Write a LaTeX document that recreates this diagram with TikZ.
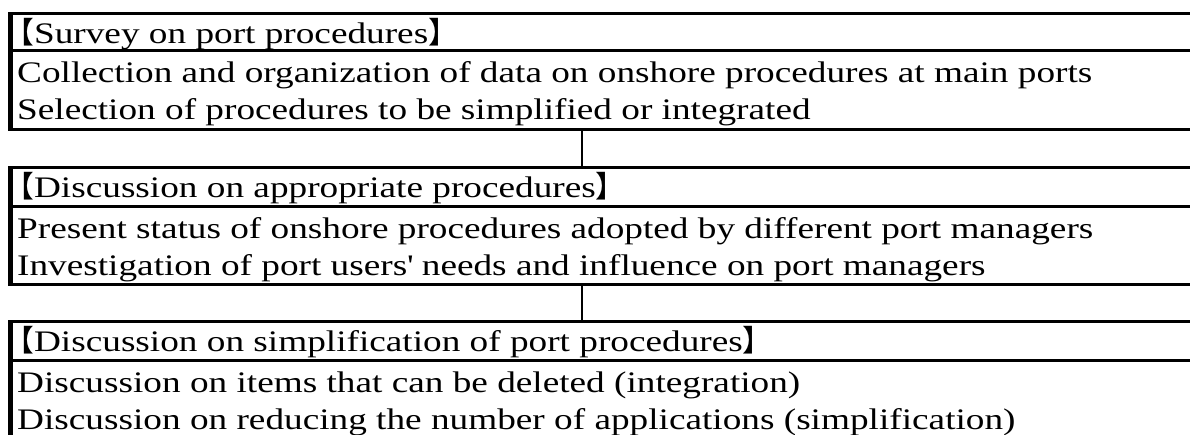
\documentclass[tikz,border=0pt]{standalone}
\usepackage{fontspec}
\setmainfont{Liberation Serif}[FakeStretch=1.25]
\newfontfamily\cjkfont{Noto Sans CJK JP}[RawFeature=+halt]
\newcommand\lbr{{\cjkfont 【}}
\newcommand\rbr{{\cjkfont 】}}
\tikzset{
  box/.style={draw, line width=3pt, anchor=north west, minimum width=1200pt, inner sep=0pt},
  leftedge/.style={line width=4.2pt},
  divider/.style={line width=3pt},
  conn/.style={line width=2pt},
  txt/.style={anchor=base west, inner sep=0pt, font=\fontsize{29.8}{36}\selectfont},
}
\begin{document}
\begin{tikzpicture}[x=1pt,y=-1pt]
\clip (0,0) rectangle (1190,434);
\coordinate (cx) at (582,0);
% boxes
\node[box, minimum height=116pt] (box1) at (10,12) {};
\node[box, minimum height=117pt] (box2) at (10,166) {};
\node[box, minimum height=120pt] (box3) at (10,320) {};
\draw[leftedge] (box1.north west) -- (box1.south west);
\draw[leftedge] (box2.north west) -- (box2.south west);
\draw[leftedge] (box3.north west) -- (box3.south west);
% dividers
\coordinate (d1) at (10,50);
\coordinate (d2) at (10,206);
\coordinate (d3) at (10,360);
\draw[divider] (d1) -- (d1 -| box1.east);
\draw[divider] (d2) -- (d2 -| box2.east);
\draw[divider] (d3) -- (d3 -| box3.east);
% texts
\node[txt] (h1) at (19,43) {\lbr Survey on port procedures\rbr};
\node[txt] (b1a) at (17,82) {Collection and organization of data on onshore procedures at main ports};
\node[txt] (b1b) at (17,119) {Selection of procedures to be simplified or integrated};
\node[txt] (h2) at (19,197) {\lbr Discussion on appropriate procedures\rbr};
\node[txt] (b2a) at (17,238) {Present status of onshore procedures adopted by different port managers};
\node[txt] (b2b) at (17,275) {Investigation of port users\textquotesingle{} needs and influence on port managers};
\node[txt] (h3) at (19,351) {\lbr Discussion on simplification of port procedures\rbr};
\node[txt] (b3a) at (17,392) {Discussion on items that can be deleted (integration)};
\node[txt] (b3b) at (17,429) {Discussion on reducing the number of applications (simplification)};
% connectors
\draw[conn] (box1.south -| cx) -- (box2.north -| cx);
\draw[conn] (box2.south -| cx) -- (box3.north -| cx);
\end{tikzpicture}
\end{document}
